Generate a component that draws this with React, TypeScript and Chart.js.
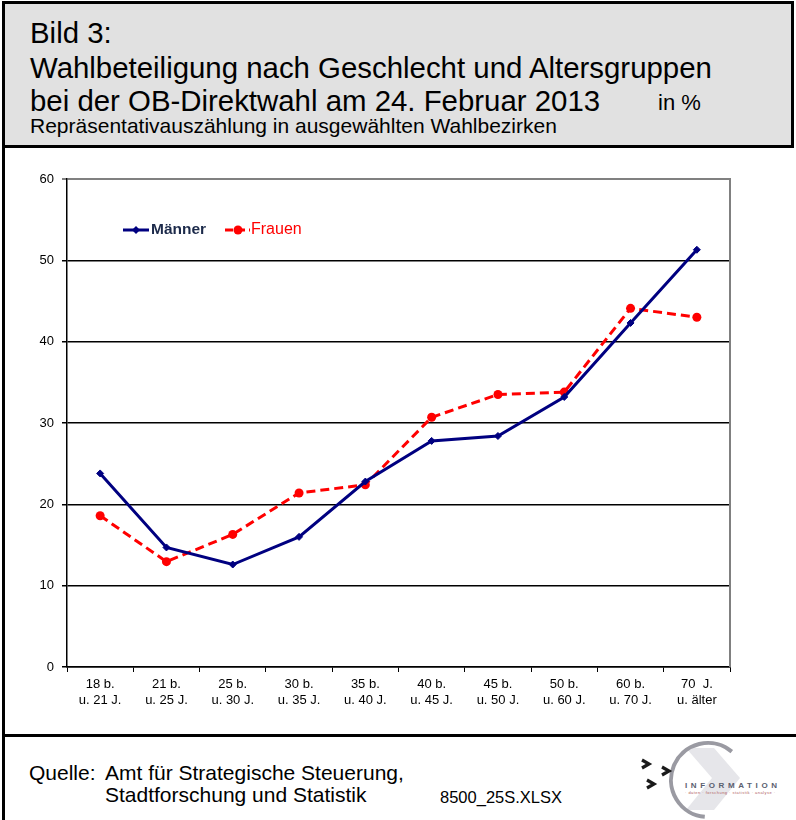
import React, { useEffect, useRef } from "react";
import { Chart, registerables } from "chart.js";

Chart.register(...registerables);

const categories: string[][] = [
  ["18 b.", "u. 21 J."],
  ["21 b.", "u. 25 J."],
  ["25 b.", "u. 30 J."],
  ["30 b.", "u. 35 J."],
  ["35 b.", "u. 40 J."],
  ["40 b.", "u. 45 J."],
  ["45 b.", "u. 50 J."],
  ["50 b.", "u. 60 J."],
  ["60 b.", "u. 70 J."],
  ["70  J.", "u. älter"],
];
const maenner: number[] = [23.8, 14.7, 12.6, 16.0, 22.8, 27.8, 28.4, 33.2, 42.3, 51.3];
const frauen: number[] = [18.6, 12.95, 16.3, 21.4, 22.4, 30.7, 33.5, 33.8, 44.1, 43.0];
const yTicks = { min: 0, max: 60, step: 10 };

const FONT = "'Liberation Sans', Arial, Helvetica, sans-serif";
const NAVY = "#000080";
const RED = "#ff0000";

const frameAndLegend = {
  id: "frameAndLegend",
  afterDraw(chart: any) {
    const { ctx, chartArea } = chart;
    ctx.save();
    // right frame border
    ctx.strokeStyle = "#808080";
    ctx.lineWidth = 2;
    ctx.beginPath();
    ctx.moveTo(chartArea.right, chartArea.top - 1);
    ctx.lineTo(chartArea.right, chartArea.bottom);
    ctx.stroke();

    // legend
    const ly = chartArea.top + 51;
    const lx = chartArea.left + 56;
    ctx.setLineDash([]);
    ctx.strokeStyle = NAVY;
    ctx.lineWidth = 3;
    ctx.beginPath();
    ctx.moveTo(lx, ly);
    ctx.lineTo(lx + 26, ly);
    ctx.stroke();
    ctx.fillStyle = NAVY;
    ctx.beginPath();
    ctx.moveTo(lx + 13, ly - 4);
    ctx.lineTo(lx + 17, ly);
    ctx.lineTo(lx + 13, ly + 4);
    ctx.lineTo(lx + 9, ly);
    ctx.closePath();
    ctx.fill();
    ctx.font = `bold 15.5px ${FONT}`;
    ctx.fillStyle = "#1c2a4a";
    ctx.textBaseline = "middle";
    ctx.textAlign = "left";
    ctx.fillText("Männer", lx + 28, ly);

    const fx = lx + 102;
    ctx.strokeStyle = RED;
    ctx.setLineDash([8, 4]);
    ctx.beginPath();
    ctx.moveTo(fx, ly);
    ctx.lineTo(fx + 25, ly);
    ctx.stroke();
    ctx.setLineDash([]);
    ctx.fillStyle = RED;
    ctx.beginPath();
    ctx.arc(fx + 13, ly, 4.5, 0, Math.PI * 2);
    ctx.fill();
    ctx.font = `16px ${FONT}`;
    ctx.fillText("Frauen", fx + 26, ly);
    ctx.restore();
  },
};

function ChartCanvas() {
  const ref = useRef<HTMLCanvasElement | null>(null);
  useEffect(() => {
    if (!ref.current) return;
    const chart = new Chart(ref.current, {
      type: "line",
      data: {
        labels: categories,
        datasets: [
          {
            label: "Männer",
            data: maenner,
            borderColor: NAVY,
            backgroundColor: NAVY,
            borderWidth: 3,
            pointStyle: "rectRot",
            pointRadius: 3.5,
            pointBorderWidth: 1,
            tension: 0,
          },
          {
            label: "Frauen",
            data: frauen,
            borderColor: RED,
            backgroundColor: RED,
            borderWidth: 3,
            borderDash: [9, 5],
            pointStyle: "circle",
            pointRadius: 4.5,
            pointBorderWidth: 0,
            tension: 0,
          },
        ],
      },
      options: {
        animation: false,
        responsive: false,
        maintainAspectRatio: false,
        layout: { padding: { top: 29, right: 66, left: 0, bottom: 0 } },
        plugins: {
          legend: { display: false },
          tooltip: { enabled: false },
          title: { display: false },
        },
        scales: {
          x: {
            type: "category",
            offset: true,
            afterFit: (s: any) => {
              s.height = 63;
            },
            grid: {
              offset: true,
              drawOnChartArea: false,
              drawTicks: true,
              tickLength: 5,
              color: "#000",
              lineWidth: 1,
            },
            border: { display: true, color: "#000", width: 1.5 },
            ticks: {
              color: "#000",
              font: { family: FONT, size: 13 },
              padding: 5,
              maxRotation: 0,
              autoSkip: false,
            },
          },
          y: {
            min: yTicks.min,
            max: yTicks.max,
            afterFit: (s: any) => {
              s.width = 67;
            },
            grid: {
              color: (c: any) => (c.tick && c.tick.value === 60 ? "#808080" : "#000"),
              lineWidth: (c: any) => (c.tick && c.tick.value === 60 ? 2 : 1.5),
              tickLength: 5,
              drawTicks: true,
            },
            border: { display: true, color: "#000", width: 1.5 },
            ticks: {
              stepSize: yTicks.step,
              color: "#000",
              font: { family: FONT, size: 13 },
              padding: 8,
            },
          },
        },
      },
      plugins: [frameAndLegend],
    });
    return () => chart.destroy();
  }, []);
  return (
    <canvas
      ref={ref}
      width={796}
      height={580}
      style={{ position: "absolute", left: 0, top: 150, width: 796, height: 580 }}
    />
  );
}

function Logo() {
  const cx = 78;
  const cy = 40;
  const r = 37;
  const a0 = (-50 * Math.PI) / 180;
  const a1 = (95 * Math.PI) / 180;
  const p0 = [cx + r * Math.cos(a0), cy + r * Math.sin(a0)];
  const p1 = [cx + r * Math.cos(a1), cy + r * Math.sin(a1)];
  return (
    <svg
      width={166}
      height={80}
      style={{ position: "absolute", left: 630, top: 740 }}
      viewBox="0 0 166 80"
    >
      <polygon points="56,8 84,8 110,38 84,70 56,70 82,38" fill="#e6e6ea" />
      <path
        d={`M ${p0[0]} ${p0[1]} A ${r} ${r} 0 1 0 ${p1[0]} ${p1[1]}`}
        stroke="#9a9aa2"
        strokeWidth={4}
        fill="none"
      />
      <polyline points="12,20 19,24 12,28" stroke="#1a1a1a" strokeWidth={3.2} fill="none" />
      <polyline points="32,27 39,31 32,35" stroke="#1a1a1a" strokeWidth={3.2} fill="none" />
      <polyline points="17,40 24,44 17,48" stroke="#1a1a1a" strokeWidth={3.2} fill="none" />
      <text
        x={55}
        y={48}
        fontFamily={FONT}
        fontWeight="bold"
        fontSize={8}
        fill="#5a6070"
        textLength={92}
        lengthAdjust="spacing"
      >
        INFORMATION
      </text>
      <text
        x={55}
        y={54}
        fontFamily={FONT}
        fontSize={4}
        fill="#b06060"
        textLength={90}
        lengthAdjust="spacing"
      >
        · daten · forschung · statistik · analyse ·
      </text>
    </svg>
  );
}

export default function App() {
  useEffect(() => {
    document.body.style.margin = "0";
  }, []);
  const abs = (o: React.CSSProperties): React.CSSProperties => ({
    position: "absolute",
    whiteSpace: "nowrap",
    fontFamily: FONT,
    color: "#000",
    ...o,
  });
  return (
    <div
      style={{
        position: "relative",
        width: 796,
        height: 820,
        background: "#fff",
        overflow: "hidden",
        margin: 0,
      }}
    >
      {/* header box */}
      <div
        style={{
          position: "absolute",
          left: 2,
          top: 1,
          width: 792,
          height: 147,
          boxSizing: "border-box",
          background: "#e1e1e1",
          borderTop: "3px solid #000",
          borderLeft: "3px solid #000",
          borderRight: "3px solid #000",
          borderBottom: "3px solid #000",
        }}
      />
      {/* left frame line */}
      <div style={{ position: "absolute", left: 2, top: 1, width: 3, height: 819, background: "#000" }} />
      {/* footer separator */}
      <div style={{ position: "absolute", left: 2, top: 734, width: 794, height: 3, background: "#000" }} />

      <div style={abs({ left: 30, top: 17.5, fontSize: 29.4, lineHeight: "29px" })}>Bild 3:</div>
      <div style={abs({ left: 30, top: 52.5, fontSize: 29.4, lineHeight: "29px" })}>
        Wahlbeteiligung nach Geschlecht und Altersgruppen
      </div>
      <div style={abs({ left: 30, top: 85.5, fontSize: 29.4, lineHeight: "29px" })}>
        bei der OB-Direktwahl am 24. Februar 2013
      </div>
      <div style={abs({ left: 658, top: 91.5, fontSize: 22, lineHeight: "22px" })}>in %</div>
      <div style={abs({ left: 30, top: 115, fontSize: 21, lineHeight: "21px" })}>
        Repräsentativauszählung in ausgewählten Wahlbezirken
      </div>

      <ChartCanvas />

      <div style={abs({ left: 29, top: 762, fontSize: 21, lineHeight: "21px" })}>Quelle:</div>
      <div style={abs({ left: 105, top: 762, fontSize: 21, lineHeight: "21px" })}>
        Amt für Strategische Steuerung,
      </div>
      <div style={abs({ left: 105, top: 784, fontSize: 21, lineHeight: "21px" })}>
        Stadtforschung und Statistik
      </div>
      <div style={abs({ left: 440, top: 789, fontSize: 16.5, lineHeight: "16px" })}>8500_25S.XLSX</div>

      <Logo />
    </div>
  );
}
